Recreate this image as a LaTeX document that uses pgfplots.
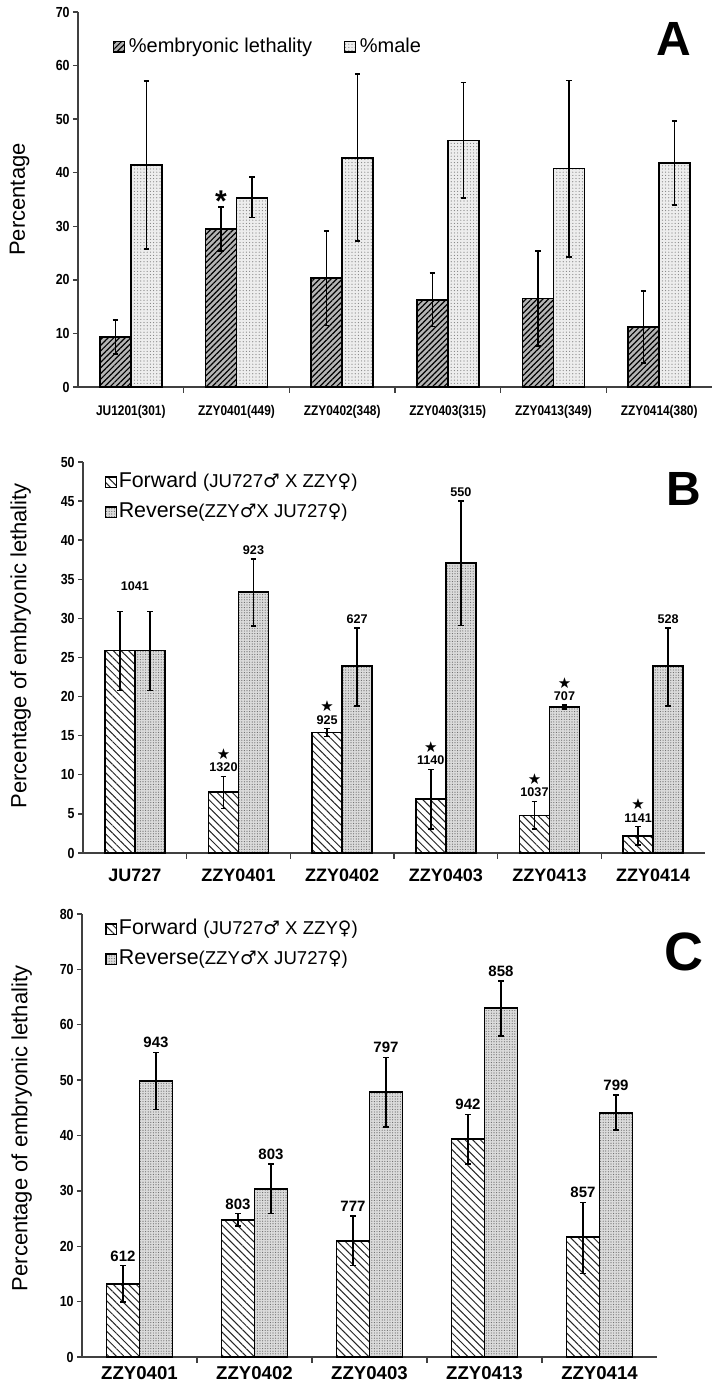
\documentclass[border=0pt]{standalone}
\usepackage{pgfplots}
\pgfplotsset{compat=1.18}
\usepackage{pgfplotstable}
\usetikzlibrary{patterns,patterns.meta}
\usepackage{fontspec}
\setmainfont{Liberation Sans}
\newfontfamily\narrowfont[FakeStretch=0.85]{Liberation Sans}
\newfontfamily\dejavu{DejaVu Sans}
\protected\def\st#1{{\dejavu\fontsize{7.5}{7.5}\selectfont ★}\\#1}
\protected\def\sA{{\fontsize{15}{15}\selectfont\bfseries *}}
\newcommand{\ma}{{\dejavu ♂}}
\newcommand{\fe}{{\dejavu ♀}}

\pgfplotstableread{
x leth lp lm lab male mp mm
0 9.3 3.2 3.1 {} 41.5 15.6 15.7
1 29.5 4.1 4.1 {\sA} 35.3 3.9 3.7
2 20.3 8.8 8.8 {} 42.7 15.7 15.5
3 16.3 5.0 5.0 {} 46.0 10.8 10.7
4 16.5 8.9 8.9 {} 40.8 16.4 16.5
5 11.2 6.7 6.7 {} 41.8 7.8 7.8
}\tA

\pgfplotstableread{
x f fp fm fl r rp rm rl
0 25.9 5.0 5.1 {} 25.9 5.0 5.1 {}
1 7.8 2.0 2.1 {\st{1320}} 33.4 4.2 4.4 923
2 15.4 0.5 0.5 {\st{925}} 23.9 4.9 5.1 627
3 6.9 3.8 3.8 {\st{1140}} 37.1 7.9 8.0 550
4 4.8 1.8 1.7 {\st{1037}} 18.7 0.2 0.3 {\st{707}}
5 2.2 1.2 1.2 {\st{1141}} 23.9 4.9 5.1 528
}\tB

\pgfplotstableread{
x f fp fm fl r rp rm rl
0 13.2 3.3 3.3 612 49.8 5.2 5.1 943
1 24.7 1.2 1.0 803 30.3 4.5 4.4 803
2 21.0 4.5 4.5 777 47.9 6.2 6.4 797
3 39.3 4.5 4.5 942 63.0 4.9 5.0 858
4 21.6 6.3 6.5 857 44.1 3.2 3.1 799
}\tC

\pgfplotsset{
  panel/.style={
    scale only axis, axis x line*=bottom, axis y line*=left,
    axis line style={black!75, line width=0.9pt},
    every tick/.style={black!75, line width=0.7pt},
    every minor tick/.append style={black!75, line width=0.7pt},
    tick align=outside, major tick length=2.5pt, minor tick length=3pt,
    ymin=0, xmin=-0.5,
    major x tick style={draw=none},
    /pgf/number format/assume math mode=true,
    yticklabel style={font=\narrowfont\bfseries\fontsize{7.3}{8}\selectfont, inner sep=1.5pt},
    legend image code/.code={\draw[##1, line width=0.6pt] (0pt,-2.6pt) rectangle (5.2pt,2.6pt);},
    clip=false,
  },
  errs/.style={forget plot, draw=none, mark=none,
    error bars/y dir=both, error bars/y explicit, error bars/error mark=-,
    error bars/error bar style={draw=black, solid, line width=0.8pt},
    error bars/error mark options={rotate=90, mark size=1.4pt, line width=0.8pt, draw=black}},
  leth/.style={fill=gray!58, draw=black, line width=0.9pt,
    postaction={pattern={Lines[angle=45,distance=2pt,line width=0.6pt]}, pattern color=black}},
  male/.style={fill=gray!14, draw=black, line width=0.9pt,
    postaction={pattern={Dots[distance=1.6pt,radius=0.3pt]}, pattern color=black!50}},
  fwd/.style={fill=white, draw=black, line width=0.9pt,
    postaction={pattern={Lines[angle=-45,distance=2.7pt,line width=0.5pt]}, pattern color=black!85}},
  rev/.style={fill=gray!28, draw=black, line width=0.9pt,
    postaction={pattern={Dots[distance=1.3pt,radius=0.28pt]}, pattern color=black!60}},
  lbl/.style 2 args={draw=none, forget plot, nodes near coords, point meta=explicit symbolic,
    every node near coord/.append style={xshift=#1, anchor=south,
      align=center, inner sep=0.5pt, yshift=1.5pt, font=\bfseries\fontsize{#2}{#2}\selectfont, text=black}},
}

\begin{document}
\begin{tikzpicture}
\useasboundingbox (0,0) rectangle (356pt,692.5pt);

% ---------- Panel A ----------
\begin{axis}[panel, at={(39pt,499pt)}, anchor=south west, width=317pt, height=187.5pt,
  bar width=15.5pt, xmax=5.5, ymax=70, ytick={0,10,...,70},
  xtick={0,...,5}, minor xtick={0.5,1.5,...,4.5},
  xticklabels={JU1201(301),ZZY0401(449),ZZY0402(348),ZZY0403(315),ZZY0413(349),ZZY0414(380)},
  xticklabel style={font=\narrowfont\bfseries\fontsize{7}{8}\selectfont, yshift=-3pt},
  ylabel={Percentage}, ylabel style={font=\fontsize{11}{12}\selectfont, at={(axis description cs:-0.092,0.5)}, anchor=center},
  legend columns=2,
  legend style={draw=none, fill=none, inner sep=0pt, at={(axis description cs:0.055,0.907)}, anchor=west,
    font=\fontsize{10}{12}\selectfont, nodes={inner sep=2pt},
    /tikz/every even column/.append style={column sep=14pt}},
]
\addplot[ybar, leth, forget plot, bar shift=-7.75pt] table[x=x, y=leth] {\tA};
\addplot[ybar, male, forget plot, bar shift=7.75pt] table[x=x, y=male] {\tA};
\addplot[errs] table[x expr=\thisrow{x}-0.14669, y=leth, y error plus=lp, y error minus=lm] {\tA};
\addplot[errs] table[x expr=\thisrow{x}+0.14669, y=male, y error plus=mp, y error minus=mm] {\tA};
\addplot[lbl={-7.75pt}{8}, every node near coord/.append style={yshift=-4.5pt}]
  table[x=x, y expr=\thisrow{leth}+\thisrow{lp}, meta=lab] {\tA};
\addlegendimage{leth}\addlegendentry{\%embryonic lethality}
\addlegendimage{male}\addlegendentry{\%male}
\end{axis}
\node[font=\bfseries\fontsize{24}{24}\selectfont] at (337pt,673pt) {A};

% ---------- Panel B ----------
\begin{axis}[panel, at={(41.5pt,266pt)}, anchor=south west, width=311pt, height=195.5pt,
  bar width=15pt, xmax=5.5, ymax=50, ytick={0,5,...,50},
  xtick={0,...,5}, minor xtick={0.5,1.5,...,4.5},
  xticklabels={JU727,ZZY0401,ZZY0402,ZZY0403,ZZY0413,ZZY0414},
  xticklabel style={font=\bfseries\fontsize{9}{10}\selectfont, yshift=-2pt},
  ylabel={Percentage of embryonic lethality}, ylabel style={font=\fontsize{11}{12}\selectfont, at={(axis description cs:-0.1,0.53)}, anchor=center},
  legend style={draw=none, fill=none, inner sep=0pt, at={(axis description cs:0.035,0.91)}, anchor=west,
    font=\fontsize{10.7}{12}\selectfont, nodes={inner sep=1pt, text height=8pt, text depth=2.5pt}, row sep=2.5pt},
  legend cell align=left,
]
\addplot[ybar, fwd, forget plot, bar shift=-7.5pt] table[x=x, y=f] {\tB};
\addplot[ybar, rev, forget plot, bar shift=7.5pt] table[x=x, y=r] {\tB};
\addplot[errs] table[x expr=\thisrow{x}-0.14469, y=f, y error plus=fp, y error minus=fm] {\tB};
\addplot[errs] table[x expr=\thisrow{x}+0.14469, y=r, y error plus=rp, y error minus=rm] {\tB};
\addplot[lbl={-7.5pt}{6.3}] table[x=x, y expr=\thisrow{f}+\thisrow{fp}, meta=fl] {\tB};
\addplot[lbl={7.5pt}{6.3}] table[x=x, y expr=\thisrow{r}+\thisrow{rp}, meta=rl] {\tB};
\addlegendimage{fwd}\addlegendentry{Forward {\fontsize{9.3}{10}\selectfont(JU727\ma\ X ZZY\fe)}}
\addlegendimage{rev}\addlegendentry{Reverse{\fontsize{9.3}{10}\selectfont(ZZY\ma X JU727\fe)}}
\node[font=\bfseries\fontsize{6.3}{7}\selectfont] at (axis cs:0,34.1) {1041};
\end{axis}
\node[font=\bfseries\fontsize{24}{24}\selectfont] at (342pt,448pt) {B};

% ---------- Panel C ----------
\begin{axis}[panel, at={(41pt,14pt)}, anchor=south west, width=287.5pt, height=221.5pt,
  bar width=16.5pt, xmax=4.5, ymax=80, ytick={0,10,...,80},
  xtick={0,...,4}, minor xtick={0.5,1.5,...,3.5},
  xticklabels={ZZY0401,ZZY0402,ZZY0403,ZZY0413,ZZY0414},
  xticklabel style={font=\bfseries\fontsize{9.3}{10}\selectfont, yshift=1.5pt},
  ylabel={Percentage of embryonic lethality}, ylabel style={font=\fontsize{11}{12}\selectfont, at={(axis description cs:-0.105,0.516)}, anchor=center},
  legend style={draw=none, fill=none, inner sep=0pt, at={(axis description cs:0.04,0.932)}, anchor=west,
    font=\fontsize{10.7}{12}\selectfont, nodes={inner sep=1pt, text height=8pt, text depth=2.5pt}, row sep=2.5pt},
  legend cell align=left,
]
\addplot[ybar, fwd, forget plot, bar shift=-8.25pt] table[x=x, y=f] {\tC};
\addplot[ybar, rev, forget plot, bar shift=8.25pt] table[x=x, y=r] {\tC};
\addplot[errs] table[x expr=\thisrow{x}-0.14348, y=f, y error plus=fp, y error minus=fm] {\tC};
\addplot[errs] table[x expr=\thisrow{x}+0.14348, y=r, y error plus=rp, y error minus=rm] {\tC};
\addplot[lbl={-8.25pt}{7.5}] table[x=x, y expr=\thisrow{f}+\thisrow{fp}, meta=fl] {\tC};
\addplot[lbl={8.25pt}{7.5}] table[x=x, y expr=\thisrow{r}+\thisrow{rp}, meta=rl] {\tC};
\addlegendimage{fwd}\addlegendentry{Forward {\fontsize{9.3}{10}\selectfont(JU727\ma\ X ZZY\fe)}}
\addlegendimage{rev}\addlegendentry{Reverse{\fontsize{9.3}{10}\selectfont(ZZY\ma X JU727\fe)}}
\end{axis}
\node[font=\bfseries\fontsize{27}{27}\selectfont] at (342pt,216.5pt) {C};
\end{tikzpicture}
\end{document}
